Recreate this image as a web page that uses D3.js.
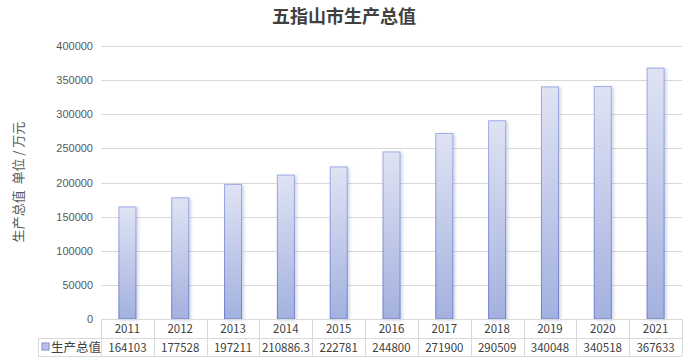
<!DOCTYPE html>
<meta charset="utf-8">
<style>
    body { margin: 0; background: #fff; }
    text { font-family: "Noto Sans CJK SC", "Noto Sans", sans-serif; }
    .title { font-size: 18px; font-weight: bold; fill: #404040; }
    .tick text { font-size: 11px; fill: #595959; font-family: "Liberation Sans", Arial, sans-serif; }
    .cell { font-size: 11.5px; fill: #404040; }
</style>
<svg width="688" height="362"></svg>
<script src="https://d3js.org/d3.v7.min.js"></script>
<script>
    // data
    var years = ["2011", "2012", "2013", "2014", "2015", "2016", "2017", "2018", "2019", "2020", "2021"];
    var values = [164103, 177528, 197211, 210886.3, 222781, 244800, 271900, 290509, 340048, 340518, 367633];
    var valueLabels = ["164103", "177528", "197211", "210886.3", "222781", "244800", "271900", "290509", "340048", "340518", "367633"];
    var yTicks = [0, 50000, 100000, 150000, 200000, 250000, 300000, 350000, 400000];

    var svg = d3.select("svg");
    var plotLeft = 101, plotRight = 682, plotTop = 46, plotBottom = 319;

    var x = d3.scaleBand().domain(years).range([plotLeft, plotRight]);
    var y = d3.scaleLinear().domain([0, 400000]).range([plotBottom, plotTop]);

    var defs = svg.append("defs");
    var grad = defs.append("linearGradient")
        .attr("id", "barGrad").attr("x1", 0).attr("y1", 0).attr("x2", 0).attr("y2", 1);
    grad.append("stop").attr("offset", "0%").attr("stop-color", "#dfe3f3");
    grad.append("stop").attr("offset", "100%").attr("stop-color", "#a4b1df");
    var border = defs.append("linearGradient")
        .attr("id", "borderGrad").attr("x1", 0).attr("y1", 0).attr("x2", 0).attr("y2", 1);
    border.append("stop").attr("offset", "0%").attr("stop-color", "#9eabe3");
    border.append("stop").attr("offset", "100%").attr("stop-color", "#6c7ecb");
    var shadow = defs.append("filter").attr("id", "shadow")
        .attr("x", "-30%").attr("y", "-10%").attr("width", "160%").attr("height", "120%");
    shadow.append("feDropShadow").attr("dx", 2).attr("dy", 1).attr("stdDeviation", 1.5)
        .attr("flood-color", "#8090c0").attr("flood-opacity", 0.35);

    // title
    svg.append("text").attr("class", "title")
        .attr("x", 344).attr("y", 23).attr("text-anchor", "middle")
        .text("五指山市生产总值");

    // y axis label
    svg.append("text")
        .attr("transform", "translate(23,182) rotate(-90)")
        .attr("text-anchor", "middle")
        .attr("xml:space", "preserve")
        .style("white-space", "pre")
        .style("font-size", "13px").style("fill", "#595959")
        .text("生产总值  单位 / 万元");

    // grid lines
    svg.append("g").selectAll("line")
        .data(yTicks.filter(function (d) { return d > 0; }))
        .enter().append("line")
        .attr("x1", plotLeft).attr("x2", plotRight)
        .attr("y1", function (d) { return Math.round(y(d)) + 0.5; })
        .attr("y2", function (d) { return Math.round(y(d)) + 0.5; })
        .attr("stroke", "#d9d9d9");

    // y ticks
    var yAxis = d3.axisLeft(y).tickValues(yTicks).tickSize(0).tickPadding(8).tickFormat(d3.format("d"));
    var ga = svg.append("g").attr("transform", "translate(" + plotLeft + ",0)").call(yAxis);
    ga.select(".domain").remove();

    // bars
    var bw = 17;
    svg.append("g").selectAll("rect")
        .data(values)
        .enter().append("rect")
        .attr("x", function (d, i) { return x(years[i]) + x.bandwidth() / 2 - bw / 2; })
        .attr("y", function (d) { return y(d); })
        .attr("width", bw)
        .attr("height", function (d) { return plotBottom - y(d); })
        .attr("fill", "url(#barGrad)")
        .attr("stroke", "url(#borderGrad)")
        .attr("stroke-width", 1)
        .attr("filter", "url(#shadow)");

    // data table
    var r1 = plotBottom, r2 = 338, r3 = 356, legendLeft = 38;
    var tbl = svg.append("g").attr("stroke", "#d9d9d9").attr("fill", "none").attr("shape-rendering", "crispEdges");
    tbl.append("line").attr("x1", plotLeft).attr("x2", plotRight).attr("y1", r1 + 0.5).attr("y2", r1 + 0.5);
    tbl.append("line").attr("x1", legendLeft).attr("x2", plotRight).attr("y1", r2 + 0.5).attr("y2", r2 + 0.5);
    tbl.append("line").attr("x1", legendLeft).attr("x2", plotRight).attr("y1", r3 + 0.5).attr("y2", r3 + 0.5);
    tbl.append("line").attr("x1", legendLeft + 0.5).attr("x2", legendLeft + 0.5).attr("y1", r2).attr("y2", r3);
    tbl.selectAll(".v").data(years.concat(["end"]))
        .enter().append("line")
        .attr("x1", function (d, i) { return Math.round(plotLeft + i * x.step()) + 0.5; })
        .attr("x2", function (d, i) { return Math.round(plotLeft + i * x.step()) + 0.5; })
        .attr("y1", r1).attr("y2", r3);

    svg.append("g").selectAll("text")
        .data(years).enter().append("text")
        .attr("class", "cell")
        .attr("x", function (d) { return x(d) + x.bandwidth() / 2; })
        .attr("y", (r1 + r2) / 2 + 4.5)
        .attr("text-anchor", "middle")
        .text(function (d) { return d; });

    svg.append("g").selectAll("text")
        .data(valueLabels).enter().append("text")
        .attr("class", "cell")
        .attr("x", function (d, i) { return x(years[i]) + x.bandwidth() / 2; })
        .attr("y", (r2 + r3) / 2 + 4.5)
        .attr("text-anchor", "middle")
        .text(function (d) { return d; });

    // legend key
    svg.append("rect")
        .attr("x", 42).attr("y", 343).attr("width", 7).attr("height", 7)
        .attr("fill", "#b8c1e6").attr("stroke", "#7d8dd2");
    svg.append("text").attr("class", "cell")
        .attr("x", 51).attr("y", (r2 + r3) / 2 + 4.5)
        .style("font-size", "12.5px")
        .text("生产总值");
</script>
